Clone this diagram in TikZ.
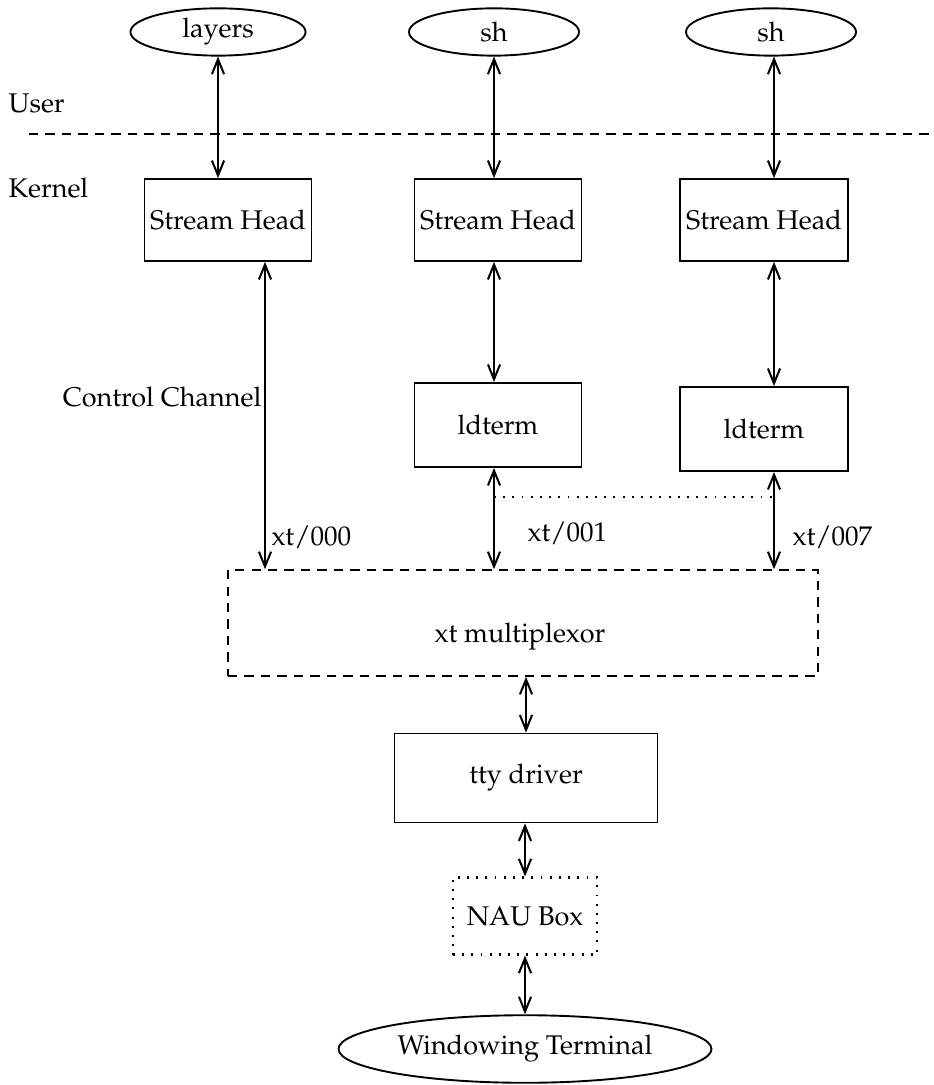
\documentclass[tikz,border=0pt]{standalone}
\usepackage[T1]{fontenc}
\usepackage{mathpazo}
\usepackage{tikz}
\usetikzlibrary{shapes,arrows.meta,positioning,calc}

\begin{document}
\begin{tikzpicture}[x=0.37pt, y=-0.37pt,
    box/.style={rectangle, draw, line width=0.7pt, inner sep=0pt},
    proc/.style={ellipse, draw, line width=0.7pt, inner sep=0pt},
    lbl/.style={inner sep=0pt, anchor=west},
    dbl/.style={{Straight Barb[length=5.5pt,width=4.5pt]}-{Straight Barb[length=5.5pt,width=4.5pt]}, line width=0.75pt},
    dashbox/.style={rectangle, draw, line width=0.6pt, dash pattern=on 3.5pt off 2.6pt, inner sep=0pt},
    dotbox/.style={rectangle, draw, line width=0.8pt, dash pattern=on 0.7pt off 2.7pt, inner sep=0pt}]
    \useasboundingbox (0,0) rectangle (933,1085);

    % user processes
    \node[proc, minimum width=64.8pt, minimum height=17.5pt] (lay) at (218,32) {layers};
    \node[proc, minimum width=62.9pt, minimum height=17.5pt] (shx) at (494,32) {sh};
    \node[proc, minimum width=62.9pt, minimum height=17.5pt] (shy) at (771,32) {sh};

    \node[lbl] (user) at (8,103) {User};
    \node[lbl] (kern) at (8,188) {Kernel};
    \coordinate (la) at (29,134);
    \coordinate (lb) at (933,134);
    \draw[line width=0.6pt, dash pattern=on 3.5pt off 2.6pt] (la) -- (lb);

    % streams
    \node[box, minimum width=61.8pt, minimum height=30.3pt] (heada) at (228,220) {Stream Head};
    \node[box, minimum width=61.8pt, minimum height=30.3pt] (headb) at (498,220) {Stream Head};
    \node[box, minimum width=62.2pt, minimum height=30.3pt] (headc) at (764,220) {Stream Head};
    \node[box, minimum width=61.8pt, minimum height=31.1pt] (ldb) at (498,425) {ldterm};
    \node[box, minimum width=62.2pt, minimum height=31.1pt] (ldc) at (764,429) {ldterm};

    \node[dashbox, minimum width=218.3pt, minimum height=39.2pt] (mux) at (523,623) {};
    \node[inner sep=0pt] (muxlbl) at (520,637) {xt multiplexor};
    \node[box, minimum width=97.3pt, minimum height=32.9pt] (tty) at (526,778) {tty driver};
    \node[dotbox, minimum width=53.3pt, minimum height=28.5pt] (nau) at (525,916) {NAU Box};
    \node[proc, minimum width=138pt, minimum height=25pt] (wt) at (525,1049) {Windowing Terminal};

    \node[inner sep=0pt, anchor=east] (ctl) at (262,397) {Control Channel};
    \node[lbl] (xta) at (271,537) {xt/000};
    \node[lbl] (xtb) at (527,533) {xt/001};
    \node[lbl] (xtc) at (792,537) {xt/007};

    \coordinate (c0) at (265,0);
    \coordinate (c1) at (494,0);
    \coordinate (c2) at (774,0);
    \coordinate (d0) at (494,497);

    \draw[dbl] (lay.south) -- (lay.south |- heada.north);
    \draw[dbl] (shx.south) -- (shx.south |- headb.north);
    \draw[dbl] (shy.south -| c2) -- (headc.north -| c2);
    \draw[dbl] (heada.south -| c0) -- (mux.north -| c0);
    \draw[dbl] (headb.south -| c1) -- (ldb.north -| c1);
    \draw[dbl] (headc.south -| c2) -- (ldc.north -| c2);
    \draw[dbl] (ldb.south -| c1) -- (mux.north -| c1);
    \draw[dbl] (ldc.south -| c2) -- (mux.north -| c2);
    \draw[line width=0.8pt, dash pattern=on 0.7pt off 2.7pt] (d0) -- (d0 -| c2);
    \draw[dbl] (tty.north |- mux.south) -- (tty.north);
    \draw[dbl] (nau.north |- tty.south) -- (nau.north);
    \draw[dbl] (nau.south) -- (wt.north);
\end{tikzpicture}
\end{document}
